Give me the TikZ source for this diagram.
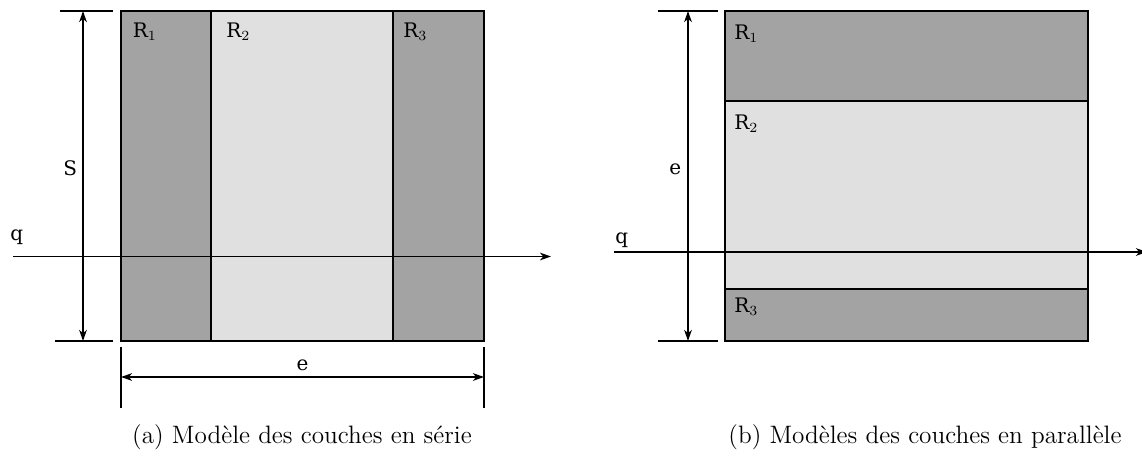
\documentclass[tikz,border=0pt]{standalone}
\usepackage{fontspec}
\newfontfamily\labelfont{DejaVu Serif}
\usetikzlibrary{arrows.meta}
\begin{document}
\begin{tikzpicture}[x=0.5pt,y=-0.5pt,
  dark/.style={fill=black!36,draw=black,line width=0.9pt},
  light/.style={fill=black!12,draw=black,line width=0.9pt},
  tick/.style={draw=black,line width=0.9pt},
  dimline/.style={draw=black,line width=0.9pt,
                  {Stealth[length=5.5pt,width=3.8pt,inset=1.6pt]}-{Stealth[length=5.5pt,width=3.8pt,inset=1.6pt]}},
  flux/.style={draw=black,line width=0.9pt,
               -{Stealth[length=5.5pt,width=3.8pt,inset=1.6pt]}},
  layer/.style={anchor=north west,inner sep=0pt,font=\labelfont\fontsize{10}{12}\selectfont},
  dimlabel/.style={inner sep=0pt,font=\labelfont\fontsize{10}{12}\selectfont},
  caption/.style={anchor=base,inner sep=0pt,font=\fontsize{12.6}{15}\selectfont}]
\path[use as bounding box] (0,0) rectangle (1142,456);
% (a) series layers
\draw[dark] (121,11) rectangle (211,341);
\draw[light] (211,11) rectangle (393,341);
\draw[dark] (393,11) rectangle (484,341);
\node[layer] (ra1) at (132.5,22.5) {R$_1$};
\node[layer] (ra2) at (226,22.5) {R$_2$};
\node[layer] (ra3) at (403,22.5) {R$_3$};
\coordinate (atop) at (83,11);
\coordinate (abot) at (83,341);
\draw[tick] (60,11) -- (113,11);
\draw[tick] (55,341) -- (113,341);
\draw[dimline] (atop) -- (abot);
\node[dimlabel,anchor=base east] (sa) at (77.5,175) {S};
\coordinate (aleft) at (121,377);
\coordinate (aright) at (484,377);
\draw[tick] (121,347) -- (121,408);
\draw[tick] (484,347) -- (484,408);
\draw[dimline] (aleft) -- (aright);
\node[dimlabel,anchor=base] (ea) at (302.5,370) {e};
\coordinate (qain) at (13,256.5);
\coordinate (qaout) at (551,256.5);
\draw[flux] (qain) -- (qaout);
\node[dimlabel,anchor=base west] (qa) at (10,240) {q};
\node[caption] (capa) at (302,443) {(a) Modèle des couches en série};
% (b) parallel layers
\draw[dark] (725,11) rectangle (1088,101);
\draw[light] (725,101) rectangle (1088,289);
\draw[dark] (725,289) rectangle (1088,341);
\node[layer] (rb1) at (734,25) {R$_1$};
\node[layer] (rb2) at (734,115) {R$_2$};
\node[layer] (rb3) at (734,298) {R$_3$};
\coordinate (btop) at (688,11);
\coordinate (bbot) at (688,341);
\draw[tick] (658,11) -- (718,11);
\draw[tick] (658,341) -- (718,341);
\draw[dimline] (btop) -- (bbot);
\node[dimlabel,anchor=base east] (eb) at (681.5,174) {e};
\coordinate (qbin) at (614,252);
\coordinate (qbout) at (1147,252);
\draw[flux] (qbin) -- (qbout);
\node[dimlabel,anchor=base west] (qb) at (615,243) {q};
\node[caption] (capb) at (925,443) {(b) Modèles des couches en parallèle};
\end{tikzpicture}
\end{document}
